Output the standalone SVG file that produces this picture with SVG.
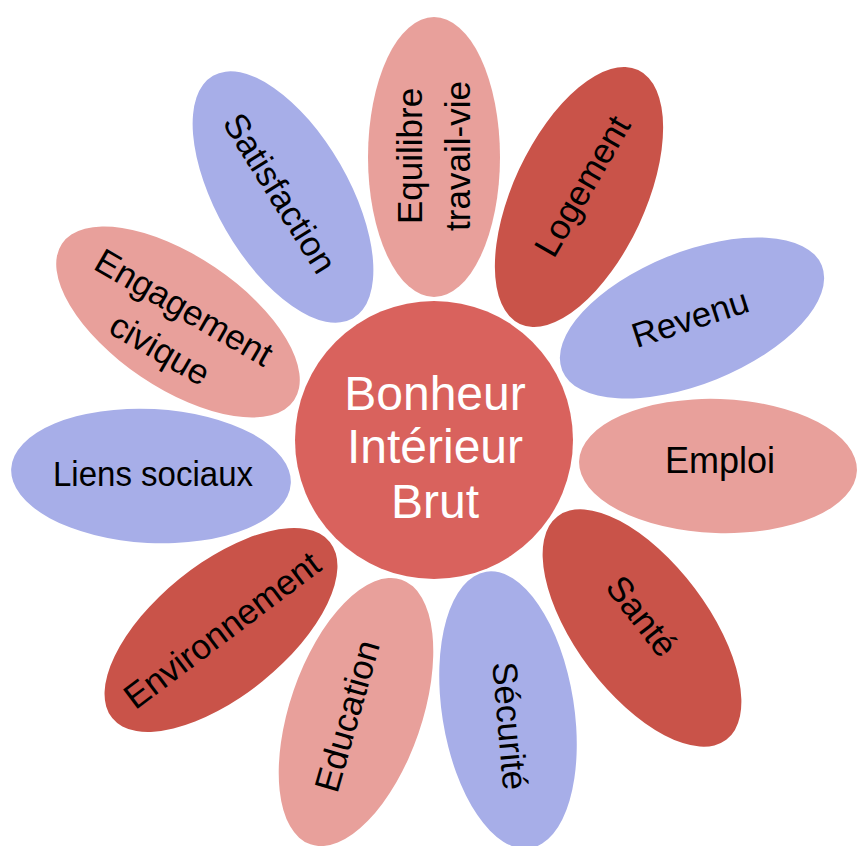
<svg xmlns="http://www.w3.org/2000/svg" width="857" height="846" viewBox="0 0 857 846">
<style>
.pink{fill:#E8A09B}
.red{fill:#C95349}
.blue{fill:#A7AEE8}
.lbl{font-family:"Liberation Sans",Arial,sans-serif;font-size:35px;fill:#000;text-anchor:middle}
.hub{font-family:"Liberation Sans",Arial,sans-serif;font-size:48px;fill:#fff;text-anchor:middle}
</style>
<rect width="857" height="846" fill="#fff"/>
<g id="equilibre">
<ellipse class="pink" cx="434" cy="157" rx="66" ry="140"/>
<g transform="translate(434,156) rotate(-90)"><text class="lbl" x="0" y="-11.75">Equilibre</text><text class="lbl" x="0" y="36.25">travail-vie</text></g>
</g>
<g id="logement">
<ellipse class="red" cx="579" cy="197" rx="66" ry="140" transform="rotate(25 579 197)"/>
<text class="lbl" transform="translate(582,186) rotate(-60)" y="12.25">Logement</text>
</g>
<g id="revenu">
<ellipse class="blue" cx="692" cy="318" rx="140" ry="66" transform="rotate(-22 692 318)"/>
<text class="lbl" transform="translate(690,318) rotate(-18)" y="12.25">Revenu</text>
</g>
<g id="emploi">
<ellipse class="pink" cx="718" cy="466" rx="139" ry="67" transform="rotate(2 718 466)"/>
<text class="lbl" x="720" y="473" style="font-size:36px">Emploi</text>
</g>
<g id="sante">
<ellipse class="red" cx="642" cy="628" rx="66" ry="140" transform="rotate(-37 642 628)"/>
<text class="lbl" transform="translate(642,616) rotate(52)" y="12.25">Santé</text>
</g>
<g id="securite">
<ellipse class="blue" cx="508" cy="710" rx="66" ry="140" transform="rotate(-9 508 710)"/>
<text class="lbl" transform="translate(510,726) rotate(85)" y="12.25">Sécurité</text>
</g>
<g id="education">
<ellipse class="pink" cx="356" cy="712" rx="66" ry="140" transform="rotate(19 356 712)"/>
<text class="lbl" transform="translate(347,716) rotate(-74)" y="12.25">Education</text>
</g>
<g id="environnement">
<ellipse class="red" cx="221" cy="630" rx="140" ry="66" transform="rotate(-39 221 630)"/>
<text class="lbl" transform="translate(222,630) rotate(-37)" y="12.25">Environnement</text>
</g>
<g id="liens">
<ellipse class="blue" cx="151" cy="476" rx="140" ry="67" transform="rotate(3 151 476)"/>
<text class="lbl" x="153" y="486" textLength="200" lengthAdjust="spacingAndGlyphs">Liens sociaux</text>
</g>
<g id="engagement">
<ellipse class="pink" cx="178" cy="322" rx="140" ry="66" transform="rotate(34 178 322)"/>
<g transform="translate(172,328) rotate(30)"><text class="lbl" x="0" y="-11.75">Engagement</text><text class="lbl" x="0" y="36.25">civique</text></g>
</g>
<g id="satisfaction">
<ellipse class="blue" cx="283" cy="197" rx="66" ry="140" transform="rotate(-30 283 197)"/>
<text class="lbl" transform="translate(280,193) rotate(58)" y="12.25">Satisfaction</text>
</g>
<g id="bib">
<circle cx="434" cy="440" r="139" fill="#D9625D"/>
<text class="hub" x="435" y="410">Bonheur</text>
<text class="hub" x="435" y="463">Intérieur</text>
<text class="hub" x="435" y="518">Brut</text>
</g>
</svg>
